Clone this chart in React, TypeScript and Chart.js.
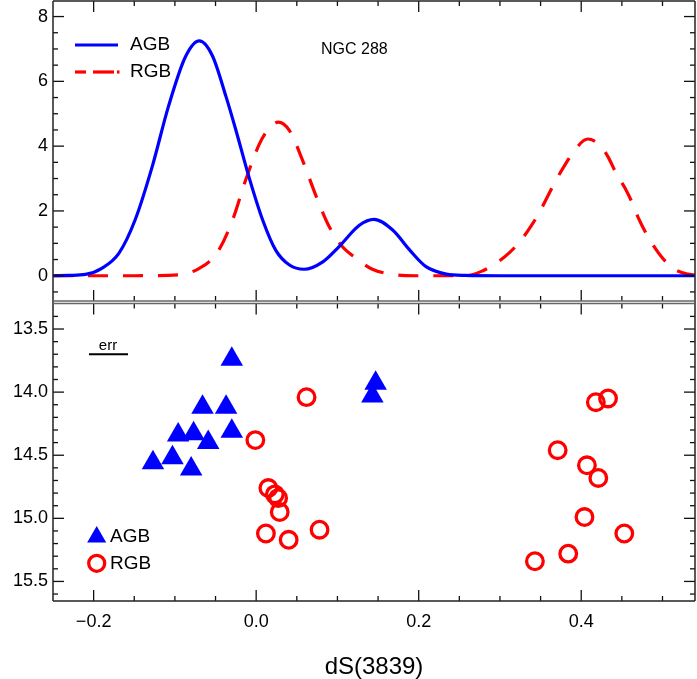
import React, { useEffect, useRef } from 'react';
import { Chart, registerables } from 'chart.js';

Chart.register(...registerables);

const FONT = "'Liberation Sans', Arial, Helvetica, sans-serif";

// ---- Top panel: generalized histograms ----
const agbCurveX = [-0.25, -0.23, -0.21, -0.19, -0.169, -0.149, -0.128, -0.108, -0.087, -0.07, -0.054, -0.037, -0.025, -0.009, 0.008, 0.024, 0.041, 0.059, 0.082, 0.102, 0.127, 0.145, 0.168, 0.189, 0.209, 0.234, 0.258, 0.3, 0.4, 0.54];
const agbCurveY = [0.0, 0.01, 0.04, 0.23, 0.69, 1.72, 3.36, 5.22, 6.76, 7.25, 6.8, 5.52, 4.5, 3.06, 1.72, 0.79, 0.33, 0.2, 0.43, 0.9, 1.56, 1.74, 1.41, 0.79, 0.28, 0.05, 0.01, 0.0, 0.0, 0.0];

const rgbCurveX = [-0.25, -0.15, -0.095, -0.079, -0.07, -0.058, -0.046, -0.029, -0.013, 0.004, 0.014, 0.027, 0.041, 0.057, 0.074, 0.09, 0.106, 0.123, 0.143, 0.172, 0.197, 0.258, 0.279, 0.295, 0.312, 0.326, 0.339, 0.349, 0.369, 0.38, 0.392, 0.408, 0.423, 0.433, 0.443, 0.454, 0.464, 0.47, 0.48, 0.497, 0.513, 0.531, 0.54];
const rgbCurveY = [0.0, 0.0, 0.03, 0.12, 0.23, 0.43, 0.79, 1.72, 2.95, 4.07, 4.49, 4.74, 4.48, 3.57, 2.44, 1.51, 0.9, 0.54, 0.2, 0.03, 0.0, 0.0, 0.155, 0.38, 0.72, 1.1, 1.56, 1.98, 2.95, 3.42, 3.88, 4.22, 4.03, 3.67, 3.16, 2.7, 2.18, 1.8, 1.3, 0.64, 0.23, 0.05, 0.02];

// ---- Bottom panel: individual stars (dS(3839), V) ----
const agbStarX = [-0.03, -0.066, -0.037, -0.03, -0.096, -0.077, -0.059, -0.127, -0.103, -0.08, 0.147, 0.143];
const agbStarV = [13.74, 14.12, 14.12, 14.31, 14.34, 14.33, 14.4, 14.56, 14.52, 14.61, 13.93, 14.03];
const rgbStarX = [-0.001, 0.062, 0.015, 0.023, 0.027, 0.029, 0.012, 0.04, 0.078, 0.418, 0.433, 0.371, 0.407, 0.421, 0.404, 0.453, 0.384, 0.343];
const rgbStarV = [14.38, 14.04, 14.76, 14.81, 14.84, 14.95, 15.12, 15.17, 15.09, 14.08, 14.05, 14.46, 14.58, 14.68, 14.99, 15.12, 15.28, 15.34];

// ---- Tick labels ----
const xTicks = [-0.2, 0.0, 0.2, 0.4];
const topTicks = [0, 2, 4, 6, 8];
const bottomTicks = [13.5, 14.0, 14.5, 15.0, 15.5];

const X_MIN = -0.25, X_MAX = 0.54;
const TOP_MIN = -0.78, TOP_MAX = 8.48;
const BOT_MIN = 13.278, BOT_MAX = 15.655;

const BLUE = '#0000ff';
const RED = '#ff0000';

function line(ctx: CanvasRenderingContext2D, x1: number, y1: number, x2: number, y2: number) {
  ctx.beginPath();
  ctx.moveTo(x1, y1);
  ctx.lineTo(x2, y2);
  ctx.stroke();
}

const panelPlugin = {
  id: 'panelFrames',
  afterDraw(chart: any) {
    const ctx: CanvasRenderingContext2D = chart.ctx;
    const xs = chart.scales.x;
    const yt = chart.scales.yTop;
    const yb = chart.scales.yBot;
    const L = chart.chartArea.left;
    const R = chart.chartArea.right;
    const topP = { top: yt.top, bottom: yt.bottom };
    const botP = { top: yb.top + 2.5, bottom: yb.bottom };
    ctx.save();
    ctx.lineCap = 'butt';
    ctx.strokeStyle = '#111';
    ctx.lineWidth = 1.3;
    const MAJ = 11, MIN = 5;
    // x ticks on both panels, both edges
    for (let k = -5; k <= 11; k++) {
      const v = k * 0.05;
      if (v <= X_MIN + 0.001 || v >= X_MAX - 0.001) continue;
      const px = xs.getPixelForValue(v);
      const len = k % 4 === 0 ? MAJ : MIN;
      for (const p of [topP, botP]) {
        line(ctx, px, p.top, px, p.top + len);
        line(ctx, px, p.bottom, px, p.bottom - len);
      }
    }
    // y ticks top panel
    for (let k = -1; k <= 17; k++) {
      const v = k * 0.5;
      if (v <= TOP_MIN || v >= TOP_MAX) continue;
      const py = yt.getPixelForValue(v);
      const len = k % 4 === 0 ? MAJ : MIN;
      line(ctx, L, py, L + len, py);
      line(ctx, R, py, R - len, py);
    }
    // y ticks bottom panel
    for (let k = 133; k <= 156; k++) {
      const v = k * 0.1;
      const py = yb.getPixelForValue(v);
      if (py <= botP.top + 1 || py >= botP.bottom - 0.5) continue;
      const len = k % 5 === 0 ? MAJ : MIN;
      line(ctx, L, py, L + len, py);
      line(ctx, R, py, R - len, py);
    }
    // frames
    ctx.strokeStyle = '#222';
    ctx.lineWidth = 1.5;
    line(ctx, L, topP.top, R, topP.top);
    line(ctx, L, botP.bottom, R, botP.bottom);
    line(ctx, L, topP.top, L, botP.bottom);
    line(ctx, R, topP.top, R, botP.bottom);
    ctx.strokeStyle = '#666';
    line(ctx, L, topP.bottom, R, topP.bottom);
    line(ctx, L, botP.top, R, botP.top);

    // top legend
    ctx.lineWidth = 3.2;
    ctx.strokeStyle = BLUE;
    line(ctx, 75, 45, 118, 45);
    ctx.strokeStyle = RED;
    line(ctx, 75, 72, 86, 72);
    line(ctx, 93, 72, 114, 72);
    line(ctx, 117, 72, 119.5, 72);
    ctx.fillStyle = '#000';
    ctx.textBaseline = 'middle';
    ctx.textAlign = 'left';
    ctx.font = `19px ${FONT}`;
    ctx.fillText('AGB', 130, 45);
    ctx.fillText('RGB', 130, 72);
    ctx.font = `16px ${FONT}`;
    ctx.fillText('NGC 288', 321, 50);

    // error bar
    ctx.strokeStyle = '#000';
    ctx.lineWidth = 2;
    line(ctx, 89, 354.3, 128, 354.3);
    ctx.font = `15px ${FONT}`;
    ctx.textAlign = 'center';
    ctx.fillText('err', 108, 346);

    // bottom legend
    const r = 11;
    const tx = 96.7, ty = 537;
    ctx.fillStyle = BLUE;
    ctx.beginPath();
    for (let i = 0; i < 3; i++) {
      const a = (i * 2 * Math.PI) / 3;
      const px = tx + Math.sin(a) * r;
      const py = ty - Math.cos(a) * r;
      if (i === 0) ctx.moveTo(px, py); else ctx.lineTo(px, py);
    }
    ctx.closePath();
    ctx.fill();
    ctx.strokeStyle = RED;
    ctx.lineWidth = 3.3;
    ctx.beginPath();
    ctx.arc(96.7, 563.3, 8, 0, Math.PI * 2);
    ctx.stroke();
    ctx.fillStyle = '#000';
    ctx.textAlign = 'left';
    ctx.font = `19px ${FONT}`;
    ctx.fillText('AGB', 110, 537);
    ctx.fillText('RGB', 110, 564);
    ctx.restore();
  },
};

const fmtMinus = (s: string) => s.replace('-', '\u2212');

export default function App() {
  const ref = useRef<HTMLCanvasElement>(null);
  useEffect(() => {
    const canvas = ref.current;
    if (!canvas) return;
    Chart.defaults.font.family = FONT;
    Chart.defaults.color = '#000';
    const yFit = (s: any) => {
      s.width = 53;
      s.paddingTop = 0;
      s.paddingBottom = 0;
    };
    const chart = new Chart(canvas, {
      type: 'scatter',
      data: {
        datasets: [
          {
            label: 'AGB',
            data: agbCurveX.map((x, i) => ({ x, y: agbCurveY[i] })),
            xAxisID: 'x',
            yAxisID: 'yTop',
            showLine: true,
            borderColor: BLUE,
            borderWidth: 3.2,
            pointRadius: 0,
            cubicInterpolationMode: 'monotone',
            fill: false,
          },
          {
            label: 'RGB',
            data: rgbCurveX.map((x, i) => ({ x, y: rgbCurveY[i] })),
            xAxisID: 'x',
            yAxisID: 'yTop',
            showLine: true,
            borderColor: RED,
            borderWidth: 3.2,
            borderDash: [20, 15],
            pointRadius: 0,
            cubicInterpolationMode: 'monotone',
            fill: false,
          },
          {
            label: 'AGB stars',
            data: agbStarX.map((x, i) => ({ x, y: agbStarV[i] })),
            xAxisID: 'x',
            yAxisID: 'yBot',
            pointStyle: 'triangle',
            pointRadius: 13,
            backgroundColor: BLUE,
            borderColor: BLUE,
            borderWidth: 0,
          },
          {
            label: 'RGB stars',
            data: rgbStarX.map((x, i) => ({ x, y: rgbStarV[i] })),
            xAxisID: 'x',
            yAxisID: 'yBot',
            pointStyle: 'circle',
            pointRadius: 8.3,
            backgroundColor: 'rgba(255,255,255,0)',
            borderColor: RED,
            borderWidth: 3.3,
          },
        ],
      } as any,
      options: {
        responsive: false,
        animation: false,
        events: [],
        layout: { autoPadding: false, padding: { top: 1, right: 2, left: 0, bottom: 0 } },
        plugins: {
          legend: { display: false },
          tooltip: { enabled: false },
        },
        scales: {
          x: {
            type: 'linear',
            position: 'bottom',
            min: X_MIN,
            max: X_MAX,
            grid: { display: false, drawTicks: false },
            border: { display: false },
            afterBuildTicks: (s: any) => {
              s.ticks = xTicks.map((value) => ({ value }));
            },
            ticks: {
              padding: 10,
              font: { size: 18 },
              color: '#000',
              maxRotation: 0,
              autoSkip: false,
              callback: (v: any) => fmtMinus(Number(v).toFixed(1)),
            },
            title: {
              display: true,
              text: 'dS(3839)',
              color: '#000',
              font: { size: 24, lineHeight: 1 },
              padding: { top: 0, bottom: 0 },
            },
            afterFit: (s: any) => {
              s.height = 78;
              s.paddingLeft = 0;
              s.paddingRight = 0;
            },
          },
          yBot: {
            type: 'linear',
            position: 'left',
            stack: 'panels',
            stackWeight: 1,
            reverse: true,
            min: BOT_MIN,
            max: BOT_MAX,
            grid: { display: false, drawTicks: false },
            border: { display: false },
            afterBuildTicks: (s: any) => {
              s.ticks = bottomTicks.map((value) => ({ value }));
            },
            ticks: {
              padding: 5,
              font: { size: 18 },
              color: '#000',
              autoSkip: false,
              callback: (v: any) => Number(v).toFixed(1),
            },
            afterFit: yFit,
          },
          yTop: {
            type: 'linear',
            position: 'left',
            stack: 'panels',
            stackWeight: 1,
            min: TOP_MIN,
            max: TOP_MAX,
            grid: { display: false, drawTicks: false },
            border: { display: false },
            afterBuildTicks: (s: any) => {
              s.ticks = topTicks.map((value) => ({ value }));
            },
            ticks: {
              padding: 5,
              font: { size: 18 },
              color: '#000',
              autoSkip: false,
              callback: (v: any) => String(Math.round(Number(v))),
            },
            afterFit: yFit,
          },
        },
      } as any,
      plugins: [panelPlugin],
    });
    return () => chart.destroy();
  }, []);
  return (
    <div style={{ position: 'absolute', left: 0, top: 0, width: 697, height: 679, background: '#fff' }}>
      <canvas ref={ref} width={697} height={679} style={{ display: 'block' }} />
    </div>
  );
}
